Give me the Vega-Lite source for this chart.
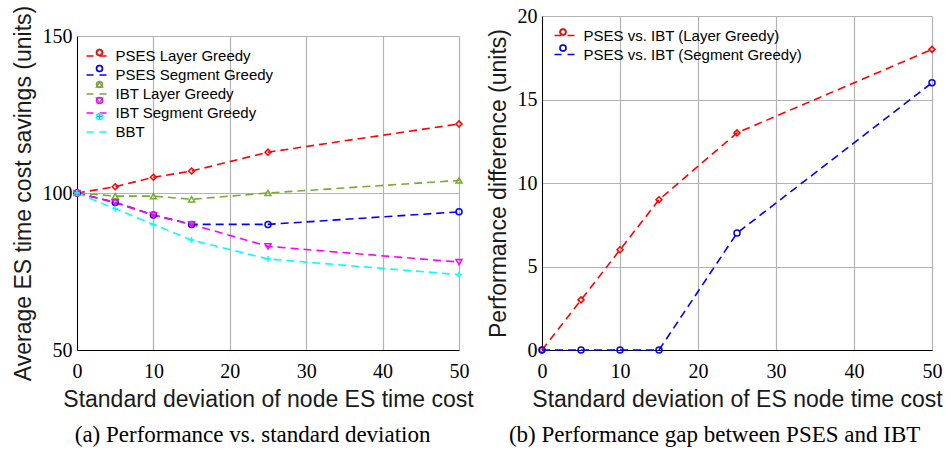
{
  "$schema": "https://vega.github.io/schema/vega-lite/v6.json",
  "padding": {"left": 12, "top": 5, "right": 0, "bottom": 0},
  "background": "white",
  "spacing": 13,
  "datasets": {
    "a": [
      {"x": 0, "y": 100, "series": "PSES Layer Greedy"},
      {"x": 5, "y": 102, "series": "PSES Layer Greedy"},
      {"x": 10, "y": 105, "series": "PSES Layer Greedy"},
      {"x": 15, "y": 107, "series": "PSES Layer Greedy"},
      {"x": 25, "y": 113, "series": "PSES Layer Greedy"},
      {"x": 50, "y": 122, "series": "PSES Layer Greedy"},
      {"x": 0, "y": 100, "series": "PSES Segment Greedy"},
      {"x": 5, "y": 97, "series": "PSES Segment Greedy"},
      {"x": 10, "y": 93, "series": "PSES Segment Greedy"},
      {"x": 15, "y": 90, "series": "PSES Segment Greedy"},
      {"x": 25, "y": 90, "series": "PSES Segment Greedy"},
      {"x": 50, "y": 94, "series": "PSES Segment Greedy"},
      {"x": 0, "y": 100, "series": "IBT Layer Greedy"},
      {"x": 5, "y": 99, "series": "IBT Layer Greedy"},
      {"x": 10, "y": 99, "series": "IBT Layer Greedy"},
      {"x": 15, "y": 98, "series": "IBT Layer Greedy"},
      {"x": 25, "y": 100, "series": "IBT Layer Greedy"},
      {"x": 50, "y": 104, "series": "IBT Layer Greedy"},
      {"x": 0, "y": 100, "series": "IBT Segment Greedy"},
      {"x": 5, "y": 97, "series": "IBT Segment Greedy"},
      {"x": 10, "y": 93, "series": "IBT Segment Greedy"},
      {"x": 15, "y": 90, "series": "IBT Segment Greedy"},
      {"x": 25, "y": 83, "series": "IBT Segment Greedy"},
      {"x": 50, "y": 78, "series": "IBT Segment Greedy"},
      {"x": 0, "y": 100, "series": "BBT"},
      {"x": 5, "y": 95, "series": "BBT"},
      {"x": 10, "y": 90, "series": "BBT"},
      {"x": 15, "y": 85, "series": "BBT"},
      {"x": 25, "y": 79, "series": "BBT"},
      {"x": 50, "y": 74, "series": "BBT"}
    ],
    "b": [
      {"x": 0, "y": 0, "series": "PSES vs. IBT (Layer Greedy)"},
      {"x": 5, "y": 3, "series": "PSES vs. IBT (Layer Greedy)"},
      {"x": 10, "y": 6, "series": "PSES vs. IBT (Layer Greedy)"},
      {"x": 15, "y": 9, "series": "PSES vs. IBT (Layer Greedy)"},
      {"x": 25, "y": 13, "series": "PSES vs. IBT (Layer Greedy)"},
      {"x": 50, "y": 18, "series": "PSES vs. IBT (Layer Greedy)"},
      {"x": 0, "y": 0, "series": "PSES vs. IBT (Segment Greedy)"},
      {"x": 5, "y": 0, "series": "PSES vs. IBT (Segment Greedy)"},
      {"x": 10, "y": 0, "series": "PSES vs. IBT (Segment Greedy)"},
      {"x": 15, "y": 0, "series": "PSES vs. IBT (Segment Greedy)"},
      {"x": 25, "y": 7, "series": "PSES vs. IBT (Segment Greedy)"},
      {"x": 50, "y": 16, "series": "PSES vs. IBT (Segment Greedy)"}
    ]
  },
  "hconcat": [
    {
      "spacing": -12,
      "resolve": {
        "scale": {"color": "independent", "stroke": "independent", "shape": "independent"},
        "legend": {"color": "independent", "stroke": "independent", "shape": "independent"}
      },
      "vconcat": [
        {"width": 382, "height": 1, "data": {"values": []}, "mark": "point", "encoding": {}},
        {
          "width": 382,
          "height": 314,
          "title": {"text": "(a) Performance vs. standard deviation", "orient": "bottom", "frame": "bounds", "font": "Liberation Serif", "fontSize": 23, "fontWeight": "normal", "color": "black", "offset": 13, "dx": 10},
          "data": {"name": "a"},
          "layer": [
            {
              "mark": {"type": "line", "strokeDash": [8, 5], "strokeWidth": 1.6},
              "encoding": {
                "x": {"field": "x", "type": "quantitative", "scale": {"domain": [0, 50], "nice": false}, "axis": {"values": [0, 10, 20, 30, 40, 50], "title": "Standard deviation of node ES time cost"}},
                "y": {"field": "y", "type": "quantitative", "scale": {"domain": [50, 150], "nice": false}, "axis": {"values": [50, 100, 150], "title": "Average ES time cost savings (units)", "labelPadding": 5}},
                "color": {"field": "series", "type": "nominal",
                  "scale": {"domain": ["PSES Layer Greedy", "PSES Segment Greedy", "IBT Layer Greedy", "IBT Segment Greedy", "BBT"], "range": ["#ff0000", "#0000ff", "#77ac30", "#ff00ff", "#00ffff"]},
                  "legend": {"orient": "none", "legendX": 8.5, "legendY": 9, "title": null, "symbolType": "stroke", "symbolDash": [7, 6], "symbolStrokeWidth": 1.6, "symbolSize": 400, "labelFont": "Liberation Sans", "labelFontSize": 15, "labelColor": "black", "labelLimit": 400, "rowPadding": -3.4, "labelOffset": 8, "padding": 0}}
              }
            },
            {
              "transform": [{"calculate": "datum.series", "as": "marker"}],
              "mark": {"type": "point", "filled": false, "strokeWidth": 1.5, "size": 36, "opacity": 1},
              "encoding": {
                "x": {"field": "x", "type": "quantitative"},
                "y": {"field": "y", "type": "quantitative"},
                "stroke": {"field": "marker", "type": "nominal", "sort": ["PSES Layer Greedy", "PSES Segment Greedy", "IBT Layer Greedy", "IBT Segment Greedy", "BBT"],
                  "scale": {"range": ["#ff0000", "#0000ff", "#77ac30", "#ff00ff", "#00ffff"]},
                  "legend": {"orient": "none", "legendX": 15, "legendY": 9, "title": null, "labelExpr": "''", "symbolStrokeWidth": 1.5, "symbolSize": 36, "labelFontSize": 15, "rowPadding": -3.4, "padding": 0}},
                "shape": {"field": "marker", "type": "nominal", "sort": ["PSES Layer Greedy", "PSES Segment Greedy", "IBT Layer Greedy", "IBT Segment Greedy", "BBT"],
                  "scale": {"range": ["diamond", "circle", "triangle-up", "triangle-down", "M-1,0H1M0,-1V1"]},
                  "legend": {"orient": "none", "legendX": 15, "legendY": 9, "title": null, "labelExpr": "''", "symbolStrokeWidth": 1.5, "symbolSize": 36, "labelFontSize": 15, "rowPadding": -3.4, "padding": 0}}
              }
            }
          ]
        }
      ]
    },
    {
      "width": 390,
      "height": 334,
      "title": {"text": "(b) Performance gap between PSES and IBT", "orient": "bottom", "frame": "bounds", "font": "Liberation Serif", "fontSize": 23, "fontWeight": "normal", "color": "black", "offset": 13},
      "data": {"name": "b"},
      "layer": [
        {
          "mark": {"type": "line", "strokeDash": [8, 5], "strokeWidth": 1.6},
          "encoding": {
            "x": {"field": "x", "type": "quantitative", "scale": {"domain": [0, 50], "nice": false}, "axis": {"values": [0, 10, 20, 30, 40, 50], "title": "Standard deviation of ES node time cost"}},
            "y": {"field": "y", "type": "quantitative", "scale": {"domain": [0, 20], "nice": false}, "axis": {"values": [0, 5, 10, 15, 20], "title": "Performance difference (units)", "labelPadding": 5}},
            "color": {"field": "series", "type": "nominal",
              "scale": {"domain": ["PSES vs. IBT (Layer Greedy)", "PSES vs. IBT (Segment Greedy)"], "range": ["#ff0000", "#0000ff"]},
              "legend": {"orient": "none", "legendX": 11.5, "legendY": 8.5, "title": null, "symbolType": "stroke", "symbolDash": [7, 6], "symbolStrokeWidth": 1.6, "symbolSize": 400, "labelFont": "Liberation Sans", "labelFontSize": 15, "labelColor": "black", "labelLimit": 400, "rowPadding": 0, "labelOffset": 8, "padding": 0}}
          }
        },
        {
          "transform": [{"calculate": "datum.series", "as": "marker"}],
          "mark": {"type": "point", "filled": false, "strokeWidth": 1.5, "size": 36, "opacity": 1},
          "encoding": {
            "x": {"field": "x", "type": "quantitative"},
            "y": {"field": "y", "type": "quantitative"},
            "stroke": {"field": "marker", "type": "nominal", "sort": ["PSES vs. IBT (Layer Greedy)", "PSES vs. IBT (Segment Greedy)"],
              "scale": {"range": ["#ff0000", "#0000ff"]},
              "legend": {"orient": "none", "legendX": 13.5, "legendY": 8.5, "title": null, "labelExpr": "''", "symbolStrokeWidth": 1.5, "symbolSize": 36, "labelFontSize": 15, "rowPadding": 0, "padding": 0}},
            "shape": {"field": "marker", "type": "nominal", "sort": ["PSES vs. IBT (Layer Greedy)", "PSES vs. IBT (Segment Greedy)"],
              "scale": {"range": ["diamond", "circle"]},
              "legend": {"orient": "none", "legendX": 13.5, "legendY": 8.5, "title": null, "labelExpr": "''", "symbolStrokeWidth": 1.5, "symbolSize": 36, "labelFontSize": 15, "rowPadding": 0, "padding": 0}}
          }
        }
      ]
    }
  ],
  "resolve": {
    "scale": {"color": "independent", "stroke": "independent", "shape": "independent"},
    "legend": {"color": "independent", "stroke": "independent", "shape": "independent"}
  },
  "config": {
    "view": {"stroke": null},
    "axis": {"domainColor": "black", "domainWidth": 1, "gridColor": "#b3b3b3", "gridWidth": 1.2, "grid": true, "ticks": false, "labelFlush": false, "labelOverlap": false, "labelFont": "Liberation Serif", "labelFontSize": 20, "labelColor": "black", "labelPadding": 11, "titleFont": "Liberation Sans", "titleFontSize": 23, "titleFontWeight": "normal", "titleColor": "#1a1a1a", "titlePadding": 7}
  }
}
